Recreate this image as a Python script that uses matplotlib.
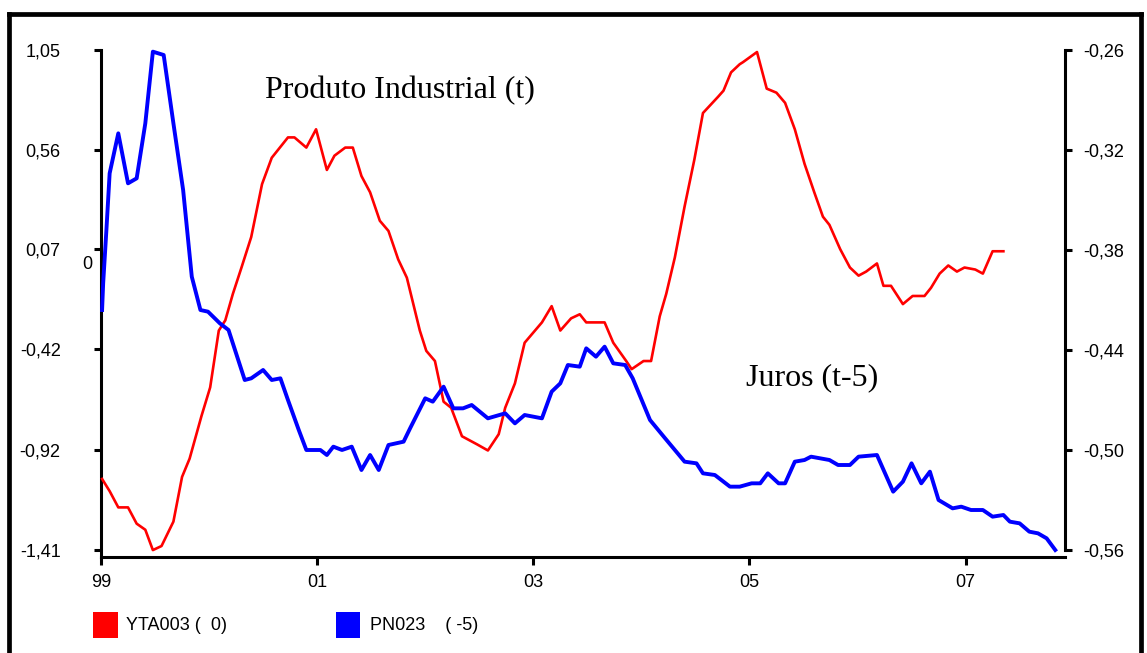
import matplotlib
matplotlib.use("Agg")
import matplotlib.pyplot as plt
from matplotlib.lines import Line2D
from matplotlib.patches import Rectangle
from matplotlib import font_manager

# Produto Industrial (YTA003, lag 0) - left axis
red_x = [1999.01, 1999.08, 1999.16, 1999.25, 1999.33, 1999.41, 1999.48, 1999.56, 1999.67, 1999.75,
         1999.82, 1999.93, 2000.01, 2000.09, 2000.15, 2000.22, 2000.30, 2000.39, 2000.49, 2000.58,
         2000.73, 2000.79, 2000.90, 2000.99, 2001.09, 2001.16, 2001.26, 2001.33, 2001.41, 2001.49,
         2001.58, 2001.66, 2001.75, 2001.83, 2001.95, 2002.01, 2002.09, 2002.17, 2002.24, 2002.34,
         2002.48, 2002.58, 2002.68, 2002.74, 2002.83, 2002.92, 2003.08, 2003.17, 2003.25, 2003.35,
         2003.43, 2003.49, 2003.66, 2003.74, 2003.86, 2003.91, 2004.02, 2004.09, 2004.17, 2004.23,
         2004.31, 2004.40, 2004.49, 2004.57, 2004.71, 2004.76, 2004.83, 2004.91, 2004.94, 2005.07,
         2005.16, 2005.25, 2005.33, 2005.42, 2005.51, 2005.60, 2005.68, 2005.74, 2005.84, 2005.93,
         2006.01, 2006.08, 2006.18, 2006.24, 2006.31, 2006.42, 2006.51, 2006.62, 2006.68, 2006.76,
         2006.84, 2006.92, 2006.99, 2007.09, 2007.16, 2007.25, 2007.35]
red_y = [-1.06, -1.12, -1.20, -1.20, -1.28, -1.31, -1.41, -1.39, -1.27, -1.05,
         -0.96, -0.75, -0.61, -0.33, -0.28, -0.15, -0.02, 0.13, 0.39, 0.52,
         0.62, 0.62, 0.57, 0.66, 0.46, 0.53, 0.57, 0.57, 0.43, 0.35,
         0.21, 0.16, 0.02, -0.07, -0.33, -0.43, -0.48, -0.68, -0.71, -0.85,
         -0.89, -0.92, -0.84, -0.71, -0.59, -0.39, -0.29, -0.21, -0.33, -0.27,
         -0.25, -0.29, -0.29, -0.39, -0.48, -0.52, -0.48, -0.48, -0.26, -0.15,
         0.03, 0.28, 0.51, 0.74, 0.82, 0.85, 0.94, 0.98, 0.99, 1.04,
         0.86, 0.84, 0.79, 0.66, 0.49, 0.35, 0.23, 0.19, 0.07, -0.02,
         -0.06, -0.04, 0.00, -0.11, -0.11, -0.20, -0.16, -0.16, -0.12, -0.05,
         -0.01, -0.04, -0.02, -0.03, -0.05, 0.06, 0.06]

# Juros (PN023, lag -5) - right axis
blue_x = [1999.01, 1999.02, 1999.05, 1999.08, 1999.16, 1999.25, 1999.33, 1999.41, 1999.48, 1999.58,
          1999.67, 1999.76, 1999.84, 1999.92, 1999.99, 2000.10, 2000.18, 2000.33, 2000.39, 2000.50,
          2000.58, 2000.66, 2000.73, 2000.83, 2000.90, 2001.03, 2001.09, 2001.15, 2001.23, 2001.32,
          2001.41, 2001.49, 2001.57, 2001.66, 2001.80, 2001.86, 2002.00, 2002.07, 2002.17, 2002.26,
          2002.35, 2002.43, 2002.58, 2002.74, 2002.83, 2002.92, 2003.08, 2003.17, 2003.25, 2003.32,
          2003.43, 2003.49, 2003.58, 2003.66, 2003.74, 2003.85, 2003.92, 2004.08, 2004.22, 2004.31,
          2004.40, 2004.51, 2004.57, 2004.68, 2004.82, 2004.91, 2005.02, 2005.10, 2005.17, 2005.27,
          2005.33, 2005.42, 2005.51, 2005.57, 2005.74, 2005.82, 2005.93, 2006.01, 2006.18, 2006.33,
          2006.42, 2006.50, 2006.59, 2006.67, 2006.75, 2006.88, 2006.96, 2007.05, 2007.16, 2007.25,
          2007.35, 2007.41, 2007.50, 2007.59, 2007.67, 2007.75, 2007.83]
blue_y = [-0.416, -0.400, -0.368, -0.334, -0.310, -0.340, -0.337, -0.304, -0.261, -0.263,
          -0.304, -0.344, -0.396, -0.416, -0.417, -0.424, -0.428, -0.458, -0.457, -0.452,
          -0.458, -0.457, -0.470, -0.488, -0.500, -0.500, -0.503, -0.498, -0.500, -0.498,
          -0.512, -0.503, -0.512, -0.497, -0.495, -0.487, -0.469, -0.471, -0.462, -0.475,
          -0.475, -0.473, -0.481, -0.478, -0.484, -0.479, -0.481, -0.465, -0.460, -0.449,
          -0.450, -0.439, -0.444, -0.438, -0.448, -0.449, -0.457, -0.482, -0.493, -0.500,
          -0.507, -0.508, -0.514, -0.515, -0.522, -0.522, -0.520, -0.520, -0.514, -0.520,
          -0.520, -0.507, -0.506, -0.504, -0.506, -0.509, -0.509, -0.504, -0.503, -0.525,
          -0.519, -0.508, -0.520, -0.513, -0.530, -0.535, -0.534, -0.536, -0.536, -0.540,
          -0.539, -0.543, -0.544, -0.549, -0.550, -0.553, -0.560]

left_ticks = [1.05, 0.56, 0.07, -0.42, -0.92, -1.41]
left_labels = ["1,05", "0,56", "0,07", "-0,42", "-0,92", "-1,41"]
right_ticks = [-0.26, -0.32, -0.38, -0.44, -0.50, -0.56]
right_labels = ["-0,26", "-0,32", "-0,38", "-0,44", "-0,50", "-0,56"]
x_ticks = [1999, 2001, 2003, 2005, 2007]
x_labels = ["99", "01", "03", "05", "07"]

W, H = 1147, 653

# narrow sans for the axis text (fall back to a condensed DejaVu / plain Liberation)
names = {f.name for f in font_manager.fontManager.ttflist}
if "Liberation Sans Narrow" in names:
    tick_fp = dict(family="Liberation Sans Narrow", size=15)
elif "DejaVu Sans Condensed" in names:
    tick_fp = dict(family="DejaVu Sans Condensed", size=14)
else:
    tick_fp = dict(family="Liberation Sans", size=13, stretch="condensed")
serif_font = ["Liberation Serif", "DejaVu Serif"]

fig = plt.figure(figsize=(W / 100, H / 100), dpi=100)
ax = fig.add_axes([101 / W, 1 - 557 / H, (1065 - 101) / W, (557 - 50) / H])
ax2 = ax.twinx()

ax.plot(red_x, red_y, color="#ff0000", lw=1.9, clip_on=False, zorder=3)
ax2.plot(blue_x, blue_y, color="#0000ff", lw=2.8, clip_on=False, zorder=3)

ax.set_xlim(1999.0, 2007.92)
ax.set_ylim(-1.444, 1.05)
ax2.set_ylim(-0.5642, -0.26)

for s in ["top", "right"]:
    ax.spines[s].set_visible(False)
for s in ["top", "left", "bottom"]:
    ax2.spines[s].set_visible(False)
ax.spines["left"].set_linewidth(2.2)
ax.spines["bottom"].set_linewidth(2.2)
ax2.spines["right"].set_linewidth(2.2)
ax2.spines["right"].set_bounds(-0.56, -0.26)

ax.set_yticks(left_ticks)
ax.set_yticklabels(left_labels, fontproperties=tick_fp)
ax.set_xticks(x_ticks)
ax.set_xticklabels(x_labels, fontproperties=tick_fp)
ax2.set_yticks(right_ticks)
ax2.set_yticklabels(right_labels, fontproperties=tick_fp)

ax.tick_params(axis="y", length=5, width=2.2, pad=24)
ax.tick_params(axis="x", length=6, width=2.2, pad=6)
ax2.tick_params(axis="y", length=5, width=2.2, pad=8)

# annotations
fig.text(265 / W, 1 - 98 / H, "Produto Industrial (t)", family=serif_font, fontsize=23,
         ha="left", va="baseline")
fig.text(746 / W, 1 - 385 / H, "Juros (t-5)", family=serif_font, fontsize=23,
         ha="left", va="baseline")
fig.text(87 / W, 1 - 265 / H, "0", fontproperties=tick_fp, ha="center", va="center")

# legend
fig.add_artist(Rectangle((93 / W, 1 - 638 / H), 25 / W, 26 / H, transform=fig.transFigure,
                         facecolor="#ff0000", edgecolor="none"))
fig.text(126 / W, 1 - 626 / H, "YTA003 (  0)", fontproperties=tick_fp, va="center")
fig.add_artist(Rectangle((336 / W, 1 - 638 / H), 24 / W, 26 / H, transform=fig.transFigure,
                         facecolor="#0000ff", edgecolor="none"))
fig.text(370 / W, 1 - 626 / H, "PN023    ( -5)", fontproperties=tick_fp, va="center")

# outer frame
fig.add_artist(Line2D([9 / W, 9 / W], [0, 1 - 14 / H], transform=fig.transFigure, color="black", lw=3.4))
fig.add_artist(Line2D([9 / W, 1141 / W], [1 - 14 / H, 1 - 14 / H], transform=fig.transFigure, color="black", lw=3.4))
fig.add_artist(Line2D([1141 / W, 1141 / W], [0, 1 - 14 / H], transform=fig.transFigure, color="black", lw=3.4))

fig.savefig("out.png", dpi=100)
